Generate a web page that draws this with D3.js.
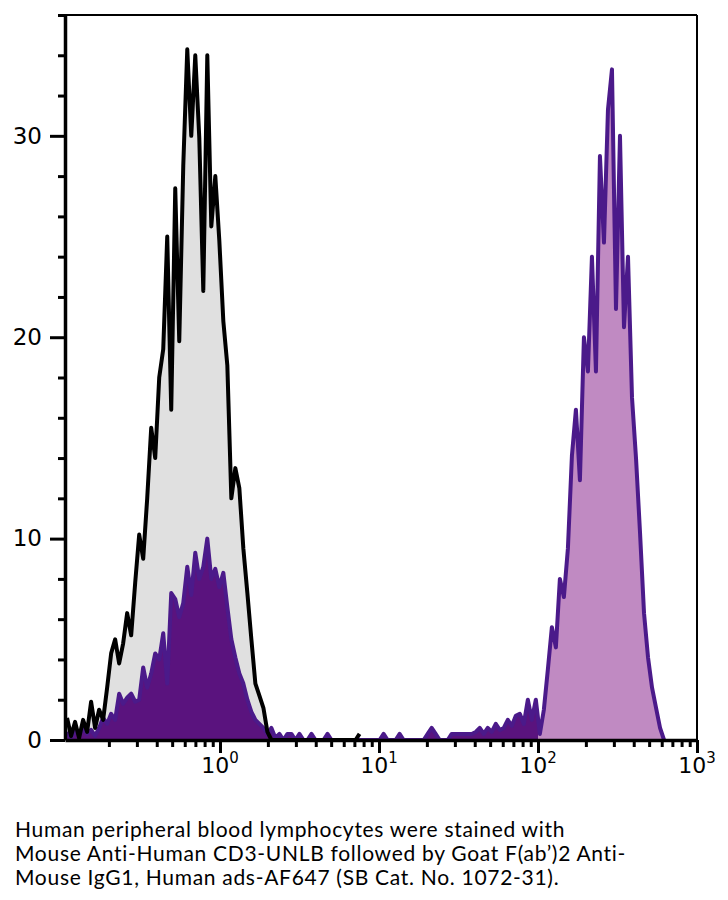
<!DOCTYPE html>
<html>
<head>
<meta charset="utf-8">
<script src="https://cdn.jsdelivr.net/npm/d3@7"></script>
<style>
  body { margin: 0; background: #fff; }
  svg { display: block; }
</style>
</head>
<body>
<svg id="chart" width="728" height="900"></svg>
<script>
// histogram channels: centre of first bin (log10 units) and bin width
var binLog0 = -0.962, binStep = 0.0252;

// unstained control (grey fill, black outline)
var controlCounts = [
  1.1, 0.2, 0.9, 0.1, 1.0, 0.4, 1.9, 0.6, 1.5, 1.0,
  2.6, 4.3, 5.0, 3.8, 4.8, 6.3, 5.2, 7.8, 10.2, 9.0,
  12.0, 15.5, 14.0, 18.0, 19.4, 25.0, 16.4, 27.4, 19.8, 28.5,
  34.3, 30.0, 34.0, 29.9, 22.3, 34.0, 25.5, 28.0, 24.8, 20.8,
  18.6, 12.0, 13.5, 12.5, 9.5, 7.3, 5.0, 2.8, 2.2, 1.6,
  0.4, 0, 0, 0, 0, 0, 0, 0, 0, 0,
  0, 0, 0, 0, 0, 0, 0, 0, 0, 0,
  0, 0, 0, 0.3
];

// CD3 stained sample (purple outline, fill changes at the gate)
var stainedCounts = [
  0.4, 0.1, 0.5, 0.2, 0.6, 0.3, 0.5, 0.2, 0.6, 1.1,
  0.8, 1.3, 1.0, 2.3, 1.8, 2.1, 2.3, 1.9, 2.0, 3.6,
  2.6, 3.3, 4.3, 4.0, 5.3, 2.8, 7.3, 7.0, 6.1, 6.8,
  8.6, 7.2, 9.3, 8.0, 8.6, 10.0, 8.0, 8.5, 7.6, 8.3,
  6.6, 5.0, 4.1, 3.3, 2.8, 2.0, 1.4, 1.0, 0.8, 0.6,
  0.3, 0.6, 0.1, 0.3, 0, 0.3, 0.3, 0, 0.3, 0,
  0, 0.3, 0, 0, 0, 0.3, 0, 0, 0, 0,
  0, 0, 0, 0, 0, 0, 0, 0, 0, 0.3,
  0, 0, 0, 0.3, 0, 0, 0, 0, 0, 0,
  0.3, 0.6, 0.3, 0, 0, 0, 0.3, 0.3, 0.3, 0.3,
  0.3, 0.3, 0.4, 0.6, 0.3, 0.6, 0.4, 0.8, 0.5, 0.6,
  1.0, 0.7, 1.2, 1.3, 0.8, 2.0, 1.0, 2.0, 0.3, 1.5,
  3.5, 5.6, 4.6, 8.0, 7.1, 9.5, 14.1, 16.4, 12.9, 20.0,
  18.3, 24.0, 18.3, 29.0, 24.7, 31.3, 33.3, 21.4, 30.0, 20.5,
  24.0, 17.0, 14.0, 10.3, 6.3, 4.1, 2.6, 1.6, 0.6, 0
];

var gateValue = 100;
var yMajor = [0, 10, 20, 30];
var yMinor = [2, 4, 6, 8, 12, 14, 16, 18, 22, 24, 26, 28, 32, 34, 36];
var xMajor = [1, 10, 100, 1000];
var xExponents = ['0', '1', '2', '3'];
var captionLines = [
  'Human peripheral blood lymphocytes were stained with',
  'Mouse Anti-Human CD3-UNLB followed by Goat F(ab\u2019)2 Anti-',
  'Mouse IgG1, Human ads-AF647 (SB Cat. No. 1072-31).'
];

var svg = d3.select('#chart');
var plotLeft = 65, plotRight = 697, plotTop = 15, plotBottom = 740;

var x = d3.scaleLog().domain([Math.pow(10, -0.975), 1000]).range([plotLeft, plotRight]);
var y = d3.scaleLinear().domain([0, 36]).range([plotBottom, plotTop]);

function toBins(counts) {
  return counts.map(function(c, i) { return { v: Math.pow(10, binLog0 + i * binStep), c: c }; });
}
var control = toBins(controlCounts);
var stained = toBins(stainedCounts);

var area = d3.area().x(function(d) { return x(d.v); }).y0(y(0)).y1(function(d) { return y(d.c); });
var line = d3.line().x(function(d) { return x(d.v); }).y(function(d) { return y(d.c); });

var defs = svg.append('defs');
defs.append('clipPath').attr('id', 'belowGate').append('rect')
  .attr('x', plotLeft).attr('y', plotTop).attr('width', x(gateValue) - plotLeft).attr('height', plotBottom - plotTop);
defs.append('clipPath').attr('id', 'aboveGate').append('rect')
  .attr('x', x(gateValue)).attr('y', plotTop).attr('width', plotRight - x(gateValue)).attr('height', plotBottom - plotTop);

var plot = svg.append('g');
plot.append('path').datum(control).attr('d', area).attr('fill', '#e0e0e0');
plot.append('path').datum(stained).attr('d', area).attr('fill', '#5a137e').attr('clip-path', 'url(#belowGate)');
plot.append('path').datum(stained).attr('d', area).attr('fill', '#c08ac2').attr('clip-path', 'url(#aboveGate)');
plot.append('path').datum(stained).attr('d', line).attr('fill', 'none')
  .attr('stroke', '#4b1a8a').attr('stroke-width', 4).attr('stroke-linejoin', 'round');
plot.append('path').datum(control).attr('d', line).attr('fill', 'none')
  .attr('stroke', '#000').attr('stroke-width', 4).attr('stroke-linejoin', 'round');

// frame top and right
svg.append('line').attr('x1', plotLeft).attr('x2', plotRight).attr('y1', y(36)).attr('y2', y(36))
  .attr('stroke', '#000').attr('stroke-width', 2);
svg.append('line').attr('x1', x(1000)).attr('x2', x(1000)).attr('y1', plotTop).attr('y2', plotBottom)
  .attr('stroke', '#000').attr('stroke-width', 2);

// y axis
var yMinorAxis = svg.append('g').attr('transform', 'translate(' + plotLeft + ',0)')
  .call(d3.axisLeft(y).tickValues(yMinor).tickSize(7).tickSizeOuter(0).tickFormat(''));
yMinorAxis.select('.domain').remove();
yMinorAxis.selectAll('line').attr('stroke-width', 3);

var yAxis = svg.append('g').attr('transform', 'translate(' + plotLeft + ',0)')
  .call(d3.axisLeft(y).tickValues(yMajor).tickSize(15).tickSizeOuter(0).tickPadding(8));
yAxis.select('.domain').attr('stroke-width', 3.5);
yAxis.selectAll('line').attr('stroke-width', 3);
yAxis.selectAll('text').attr('font-family', 'DejaVu Sans').attr('font-size', 23).attr('fill', '#000');

// x axis
var minorX = [0.1, 1, 10, 100].reduce(function(acc, d) {
  return acc.concat(d3.range(2, 10).map(function(k) { return k * d; }));
}, []);
var xMinorAxis = svg.append('g').attr('transform', 'translate(0,' + plotBottom + ')')
  .call(d3.axisBottom(x).tickValues(minorX).tickSize(7).tickSizeOuter(0).tickFormat(''));
xMinorAxis.select('.domain').remove();
xMinorAxis.selectAll('line').attr('stroke-width', 3);

var xAxis = svg.append('g').attr('transform', 'translate(0,' + plotBottom + ')')
  .call(d3.axisBottom(x).tickValues(xMajor).tickSize(13).tickSizeOuter(0).tickFormat(''));
xAxis.select('.domain').attr('stroke-width', 3.5);
xAxis.selectAll('line').attr('stroke-width', 3);

var xLabels = svg.append('g').selectAll('text').data(xMajor).enter().append('text')
  .attr('x', function(d) { return x(d); })
  .attr('y', 773)
  .attr('text-anchor', 'middle')
  .attr('font-family', 'DejaVu Sans')
  .attr('font-size', 22);
xLabels.append('tspan').text('10');
xLabels.append('tspan').attr('dy', -10).attr('font-size', 15)
  .text(function(d, i) { return xExponents[i]; });

// caption
svg.append('g').selectAll('text').data(captionLines).enter().append('text')
  .attr('x', 15)
  .attr('y', function(d, i) { return 837 + i * 24; })
  .attr('font-family', 'Lato')
  .attr('font-size', 21)
  .attr('letter-spacing', 0.7)
  .attr('fill', '#000')
  .text(function(d) { return d; });
</script>
</body>
</html>
